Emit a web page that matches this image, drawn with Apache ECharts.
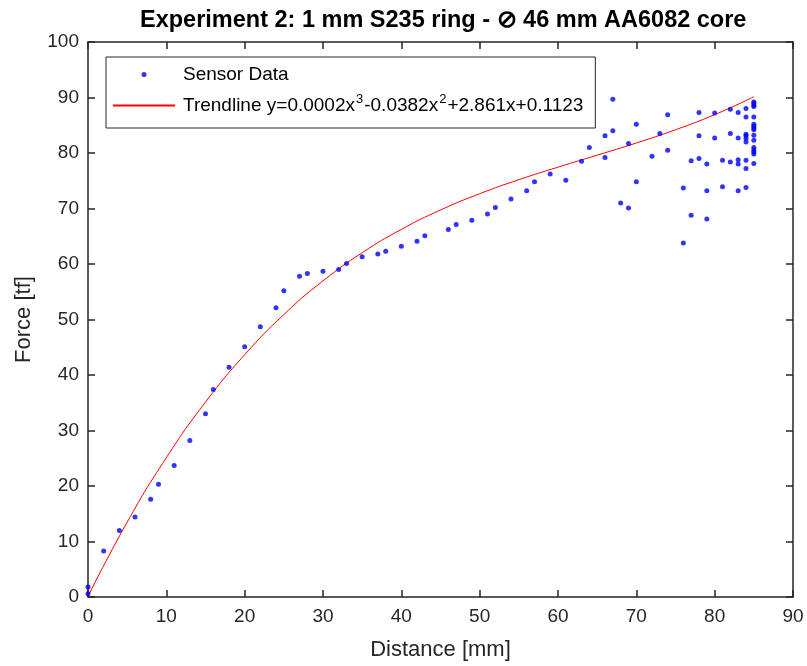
<!DOCTYPE html>
<html>
<head>
<meta charset="utf-8">
<script src="https://cdn.jsdelivr.net/npm/echarts@6/dist/echarts.min.js"></script>
<style>
  html, body { margin: 0; padding: 0; background: #fff; }
  #chart { width: 807px; height: 666px; }
</style>
</head>
<body>
<div id="chart"></div>
<script>
// ---- Data ----
const titleText = 'Experiment 2: 1 mm S235 ring - \u2298 46 mm AA6082 core';
const xAxisName = 'Distance [mm]';
const yAxisName = 'Force [tf]';
const sensorName = 'Sensor Data';
const trendName = 'Trendline';
const trendLabel = 'Trendline y=0.0002x{sup|3}-0.0382x{sup|2}+2.861x+0.1123';

const xTicks = [0, 10, 20, 30, 40, 50, 60, 70, 80, 90];
const yTicks = [0, 10, 20, 30, 40, 50, 60, 70, 80, 90, 100];

const sensorDistance = [
  0, 0, 2, 4, 6, 8, 9, 11, 13, 15, 16, 18, 20, 22, 24, 25, 27, 28, 30, 32,
  33, 35, 37, 38, 40, 42, 43, 46, 47, 49, 51, 52, 54, 56, 57, 59, 61, 63, 64, 66,
  66, 67, 67, 68, 69, 69, 70, 70, 72, 73, 74, 74, 76, 76, 77, 77, 78, 78, 78, 79,
  79, 79, 80, 80, 81, 81, 82, 82, 82, 83, 83, 83, 83, 83, 84, 84, 84, 84, 84, 84,
  84, 84, 84, 85, 85, 85, 85, 85, 85, 85, 85, 85, 85, 85, 85, 85, 85, 85, 85
];
const sensorForce = [
  0.6, 1.8, 8.3, 12.0, 14.4, 17.6, 20.3, 23.7, 28.2, 33.0, 37.4, 41.4, 45.1, 48.7, 52.1, 55.2, 57.8, 58.3, 58.7, 59.0,
  60.1, 61.3, 61.8, 62.3, 63.2, 64.1, 65.1, 66.2, 67.1, 67.9, 69.0, 70.2, 71.7, 73.2, 74.8, 76.2, 75.1, 78.5, 81.0, 83.1,
  79.2, 89.7, 84.0, 71.0, 70.1, 81.7, 85.2, 74.8, 79.4, 83.5, 86.9, 80.5, 73.7, 63.8, 78.6, 68.8, 87.3, 83.1, 79.0, 78.0,
  73.2, 68.1, 87.2, 82.7, 78.7, 73.9, 87.9, 83.5, 78.4, 87.3, 82.7, 78.8, 78.0, 73.2, 88.0, 86.5, 83.4, 83.1, 82.6, 82.0,
  78.7, 77.2, 73.8, 89.2, 89.0, 88.6, 88.4, 86.5, 85.2, 84.8, 84.5, 84.2, 83.2, 82.3, 81.0, 80.6, 80.2, 79.8, 78.1
];

const trendDistance = [0, 5, 10, 15, 20, 25, 30, 35, 40, 45, 50, 55, 60, 65, 70, 75, 80, 85];
const trendForce = [0.11, 13.49, 25.10, 35.11, 43.65, 50.89, 56.96, 62.03, 66.23, 69.73, 72.66, 75.19, 77.45, 79.61, 81.80, 84.19, 86.91, 90.13];

// ---- Chart ----
const FONT = "'Liberation Sans', Arial, Helvetica, sans-serif";
const AX = '#262626';

const sensorData = sensorDistance.map((d, i) => [d, sensorForce[i]]);
const trendData = trendDistance.map((d, i) => [d, trendForce[i]]);

function axisBase(extra) {
  return Object.assign({
    type: 'value',
    splitLine: { show: false },
    axisLine: { show: true, onZero: false, lineStyle: { color: AX, width: 1.5 } },
    axisTick: { show: true, inside: true, length: 7, lineStyle: { color: AX, width: 1.5 } },
    axisLabel: { color: AX, fontFamily: FONT, fontSize: 19 }
  }, extra);
}

const chart = echarts.init(document.getElementById('chart'), null, { renderer: 'canvas' });
chart.setOption({
  animation: false,
  backgroundColor: '#ffffff',
  title: {
    text: titleText,
    left: 140,
    top: 9,
    padding: 0,
    textStyle: { fontFamily: FONT, fontWeight: 'bold', fontSize: 23.5, color: '#000' }
  },
  grid: { left: 88, right: 14, top: 42, bottom: 69, containLabel: false },
  xAxis: [
    axisBase({
      min: xTicks[0], max: xTicks[xTicks.length - 1], interval: xTicks[1] - xTicks[0],
      position: 'bottom',
      name: xAxisName, nameLocation: 'middle', nameGap: 42,
      nameTextStyle: { color: AX, fontFamily: FONT, fontSize: 22 },
      axisLabel: { color: AX, fontFamily: FONT, fontSize: 19, margin: 10 }
    }),
    axisBase({
      min: xTicks[0], max: xTicks[xTicks.length - 1], interval: xTicks[1] - xTicks[0],
      position: 'top',
      axisLabel: { show: false }
    })
  ],
  yAxis: [
    axisBase({
      min: yTicks[0], max: yTicks[yTicks.length - 1], interval: yTicks[1] - yTicks[0],
      position: 'left',
      name: yAxisName, nameLocation: 'middle', nameGap: 53,
      nameTextStyle: { color: AX, fontFamily: FONT, fontSize: 22 },
      axisLabel: { color: AX, fontFamily: FONT, fontSize: 19, margin: 9 }
    }),
    axisBase({
      min: yTicks[0], max: yTicks[yTicks.length - 1], interval: yTicks[1] - yTicks[0],
      position: 'right',
      axisLabel: { show: false }
    })
  ],
  legend: {
    orient: 'vertical',
    left: 106,
    top: 57,
    padding: [5, 12, 10, 6],
    itemGap: 6,
    itemWidth: 62,
    itemHeight: 5,
    backgroundColor: '#ffffff',
    borderColor: AX,
    borderWidth: 1,
    data: [
      { name: sensorName, icon: 'circle' },
      { name: trendName, itemStyle: { opacity: 0 } }
    ],
    formatter: function (name) { return name === trendName ? trendLabel : name; },
    textStyle: {
      color: '#000',
      fontFamily: FONT,
      fontSize: 19,
      lineHeight: 25,
      padding: [0, 0, 0, 3],
      rich: {
        sup: { fontFamily: FONT, fontSize: 13, color: '#000', verticalAlign: 'top', padding: [0, 1, 0, 1] }
      }
    }
  },
  series: [
    {
      name: trendName,
      type: 'line',
      xAxisIndex: 0, yAxisIndex: 0,
      data: trendData,
      smooth: true,
      showSymbol: false,
      symbol: 'none',
      lineStyle: { color: '#ff0000', width: 1 },
      itemStyle: { color: '#ff0000' },
      z: 2
    },
    {
      name: sensorName,
      type: 'scatter',
      xAxisIndex: 0, yAxisIndex: 0,
      data: sensorData,
      symbol: 'circle',
      symbolSize: 5,
      itemStyle: { color: '#0000ff' },
      z: 3
    }
  ]
});
</script>
</body>
</html>
